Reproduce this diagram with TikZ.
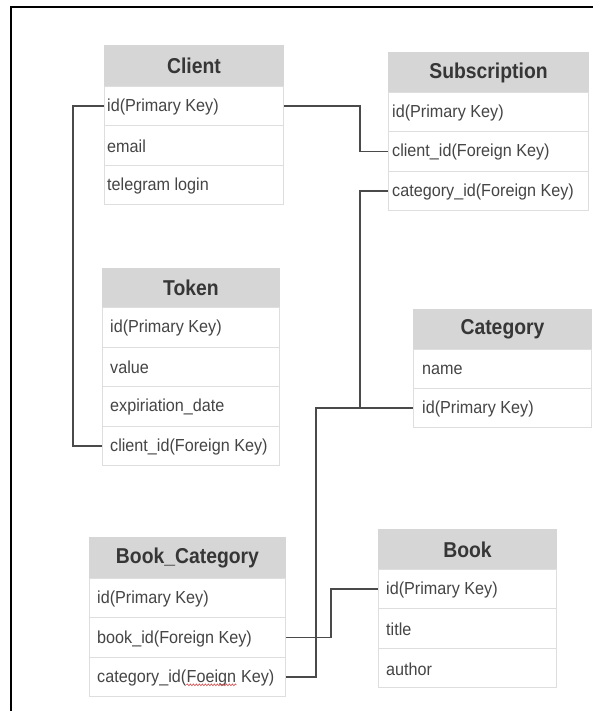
\documentclass[tikz,border=0pt]{standalone}
\usepackage{fontspec}
\setmainfont{Liberation Sans}[FakeStretch=0.93]
\newfontfamily\headfont{Liberation Sans}[FakeStretch=0.9]
\usetikzlibrary{decorations.pathmorphing}

\definecolor{headfill}{HTML}{D6D6D6}
\definecolor{cellline}{HTML}{DEDEDE}
\definecolor{inktext}{HTML}{454545}
\definecolor{inkhead}{HTML}{363636}
\definecolor{linkgray}{HTML}{4A4A4A}
\definecolor{spellred}{HTML}{D04848}

\tikzset{
  headbox/.style={draw=headfill, fill=headfill, line width=1pt, inner sep=0pt,
    text=inkhead, font=\headfont\bfseries\fontsize{21.5}{24}\selectfont},
  rowbox/.style={draw=cellline, fill=white, line width=1pt, inner sep=0pt},
  rowtext/.style={inner sep=0pt, text=inktext, font=\fontsize{17.4}{20}\selectfont},
  link/.style={draw=linkgray, line width=1.5pt},
  frameline/.style={draw=black, line width=2pt},
  squiggle/.style={draw=spellred, line width=0.6pt, decorate,
    decoration={snake, amplitude=0.9pt, segment length=3pt}}
}

% #1 prefix, #2 left x, #3 top y, #4 width, #5 header height,
% #6 row height, #7 text indent, #8 title, #9 rows as key/text
\newcommand\ertable[9]{%
  \node[headbox, minimum width=#4pt, minimum height=#5pt, anchor=north west]
    (#1) at (#2,#3) {#8};
  \foreach \key/\txt [count=\i] in {#9}{%
    \pgfmathsetmacro\rowtop{#3+#5+(\i-1)*#6}
    \node[rowbox, minimum width=#4pt, minimum height=#6pt, anchor=north west]
      (#1-\key) at (#2,\rowtop) {};
    \node[rowtext, anchor=west] (#1-\key-txt) at ([xshift=#7pt,yshift=-1pt]#1-\key.west) {\txt};
  }%
}

\begin{document}
\begin{tikzpicture}[x=1pt,y=-1pt]
  \useasboundingbox (0,0) rectangle (593,711);
  \fill[white] (0,0) rectangle (593,711);

  % page frame (top and left edges)
  \draw[frameline] (11,711) -- (11,7) -- (593,7);

  % tables
  \ertable{client}{104}{45}{179}{41}{39.33}{3}{Client}
    {id/id(Primary Key), email/email, tg/telegram login}
  \ertable{sub}{388}{52}{200}{40}{39.33}{4}{Subscription}
    {id/id(Primary Key), client/client\_id(Foreign Key), cat/category\_id(Foreign Key)}
  \ertable{token}{102}{268}{177}{39}{39.5}{8}{Token}
    {id/id(Primary Key), value/value, exp/expiriation\_date, client/client\_id(Foreign Key)}
  \ertable{cat}{413}{309}{178}{40}{39}{9}{Category}
    {name/name, id/id(Primary Key)}
  \ertable{bc}{89}{537}{196}{41}{39.33}{8}{Book\_Category}
    {id/id(Primary Key), book/book\_id(Foreign Key), cat/{}}
  \ertable{book}{378}{529}{178}{40}{39.33}{8}{Book}
    {id/id(Primary Key), title/title, author/author}

  % last Book_Category row, with the misspelt word underlined
  \node[rowtext, anchor=west] (bc-cat-a) at ([xshift=8pt,yshift=-1pt]bc-cat.west) {category\_id(};
  \node[rowtext, anchor=base west] (foeign) at (bc-cat-a.base east) {Foeign};
  \node[rowtext, anchor=base west] (bc-cat-b) at (foeign.base east) {\ Key)};
  \draw[squiggle] ([yshift=-2.5pt]foeign.base west) -- ([yshift=-2.5pt]foeign.base east);

  % relations
  \draw[link] (client-id.east) -- ++(76,0) |- (sub-client.west);
  \draw[link] (client-id.west) -- ++(-31,0) |- (token-client.west);
  \draw[link] (sub-cat.west) -- ++(-28,0) |- (cat-id.west);
  \draw[link] (bc-cat.east) -- ++(30,0) |- (cat-id.west);
  \draw[link] (bc-book.east) -- ++(45,0) |- (book-id.west);
\end{tikzpicture}
\end{document}
